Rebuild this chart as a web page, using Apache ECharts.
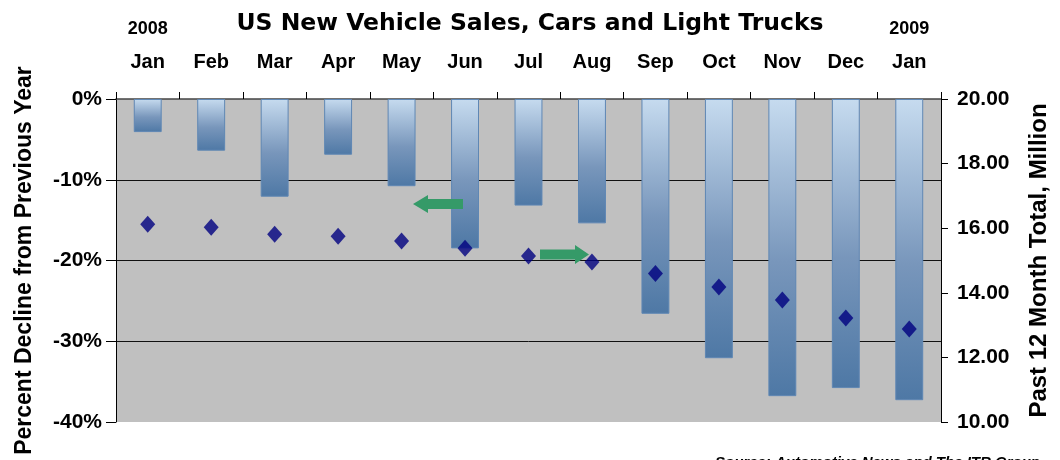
<!DOCTYPE html>
<html>
<head>
<meta charset="utf-8">
<script src="https://cdn.jsdelivr.net/npm/echarts@6/dist/echarts.min.js"></script>
<style>html,body{margin:0;padding:0;background:#fff;}#c{width:1060px;height:460px;}</style>
</head>
<body>
<div id="c"></div>
<script>
var months = ['Jan','Feb','Mar','Apr','May','Jun','Jul','Aug','Sep','Oct','Nov','Dec','Jan'];
var yearLabels = {0: '2008', 12: '2009'};
var pctDecline = [-4.1, -6.4, -12.1, -6.9, -10.8, -18.5, -13.2, -15.4, -26.6, -32.1, -36.8, -35.8, -37.3];
var past12Total = [16.12, 16.03, 15.81, 15.75, 15.6, 15.38, 15.14, 14.95, 14.6, 14.18, 13.78, 13.22, 12.88];
var leftTicks = {min: -40, max: 0, interval: 10};
var rightTicks = {min: 10, max: 20, interval: 2};

var chart = echarts.init(document.getElementById('c'), null, {renderer: 'canvas'});
var ff = 'Liberation Sans, Arial, sans-serif';

chart.setOption({
  animation: false,
  backgroundColor: '#fff',
  title: {
    text: 'US New Vehicle Sales, Cars and Light Trucks',
    left: 'center',
    top: 7,
    textStyle: {fontFamily: 'DejaVu Sans, sans-serif', fontWeight: 'bold', fontSize: 23.5, color: '#000'}
  },
  grid: {left: 116, right: 119, top: 99, bottom: 38, show: true, backgroundColor: '#c0c0c0', borderWidth: 0},
  xAxis: {
    type: 'category',
    position: 'top',
    data: months,
    axisLine: {show: true, lineStyle: {color: '#444', width: 1.5}},
    axisTick: {show: true, length: 7, lineStyle: {color: '#000'}},
    axisLabel: {
      margin: 27,
      interval: 0,
      formatter: function (v, i) {
        return yearLabels[i] ? '{yr|' + yearLabels[i] + '}\n{m|' + v + '}' : '{m|' + v + '}';
      },
      rich: {
        yr: {fontFamily: ff, fontWeight: 'bold', fontSize: 18, color: '#000', lineHeight: 45},
        m: {fontFamily: ff, fontWeight: 'bold', fontSize: 20, color: '#000', lineHeight: 20}
      }
    }
  },
  yAxis: [{
    type: 'value',
    min: leftTicks.min, max: leftTicks.max, interval: leftTicks.interval,
    name: 'Percent Decline from Previous Year',
    nameLocation: 'middle',
    nameGap: 80,
    nameTextStyle: {fontFamily: ff, fontWeight: 'bold', fontSize: 23, color: '#000'},
    axisLine: {show: true, lineStyle: {color: '#000', width: 1}},
    axisTick: {show: true, length: 10, lineStyle: {color: '#000'}},
    axisLabel: {margin: 14, fontFamily: ff, fontWeight: 'bold', fontSize: 21, color: '#000',
      formatter: function (v) { return v + '%'; }},
    splitLine: {show: true, lineStyle: {color: ['rgba(0,0,0,0)', '#111', '#111', '#111', 'rgba(0,0,0,0)'], width: 1}}
  }, {
    type: 'value',
    position: 'right',
    min: rightTicks.min, max: rightTicks.max, interval: rightTicks.interval,
    name: 'Past 12 Month Total, Million',
    nameLocation: 'middle',
    nameGap: 86,
    nameTextStyle: {fontFamily: ff, fontWeight: 'bold', fontSize: 24, color: '#000'},
    axisLine: {show: true, lineStyle: {color: '#000', width: 1}},
    axisTick: {show: true, length: 7, lineStyle: {color: '#000'}},
    axisLabel: {margin: 16, fontFamily: ff, fontWeight: 'bold', fontSize: 21, color: '#000',
      formatter: function (v) { return v.toFixed(2); }},
    splitLine: {show: false}
  }],
  series: [{
    type: 'bar',
    yAxisIndex: 0,
    data: pctDecline,
    barWidth: '44%',
    itemStyle: {
      color: new echarts.graphic.LinearGradient(0, 0, 0, 1, [
        {offset: 0, color: '#c6dbef'},
        {offset: 0.55, color: '#7896bb'},
        {offset: 1, color: '#4e78a5'}
      ]),
      borderColor: '#5f87b4',
      borderWidth: 1
    },
    z: 2
  }, {
    type: 'scatter',
    yAxisIndex: 1,
    data: past12Total,
    symbol: 'diamond',
    symbolSize: [15, 17],
    itemStyle: {color: '#000080'},
    z: 5
  }],
  graphic: [{
    type: 'polygon',
    shape: {points: [[413, 204], [428, 195], [428, 199], [463, 199], [463, 209], [428, 209], [428, 213]]},
    style: {fill: '#359a68'}, z: 10
  }, {
    type: 'polygon',
    shape: {points: [[589, 254.5], [575, 245], [575, 249.5], [540, 249.5], [540, 259.5], [575, 259.5], [575, 264]]},
    style: {fill: '#359a68'}, z: 10
  }, {
    type: 'text',
    left: 715, top: 455,
    style: {text: 'Source: Automotive News and The ITR Group', fill: '#000',
      font: 'italic bold 15px Liberation Sans, Arial, sans-serif'}
  }]
});
</script>
</body>
</html>
